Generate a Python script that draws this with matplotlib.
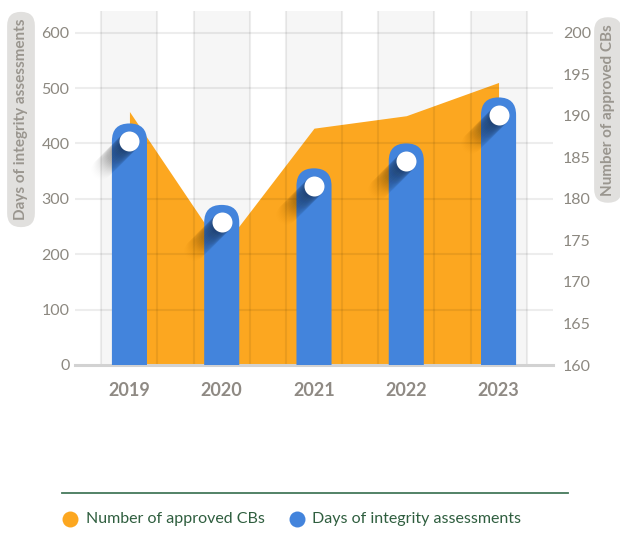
import numpy as np
import matplotlib.pyplot as plt
from matplotlib.patches import FancyBboxPatch
from matplotlib.lines import Line2D
from matplotlib.transforms import ScaledTranslation

# data
years = ['2019', '2020', '2021', '2022', '2023']
days = [436, 289, 355, 400, 483]          # Days of integrity assessments (left axis)
cbs = [190.5, 174, 188.5, 190, 194]       # Number of approved CBs (right axis)
left_ticks = [0, 100, 200, 300, 400, 500, 600]
right_ticks = [160, 165, 170, 175, 180, 185, 190, 195, 200]
legend_labels = ['Number of approved CBs', 'Days of integrity assessments']

orange = '#fca720'
blue = '#4384dc'
grey_txt = '#8c8880'
green = '#2f5e3f'

plt.rcParams['font.family'] = ['Lato', 'DejaVu Sans']

fig = plt.figure(figsize=(6.2, 5.43), dpi=100)
ax = fig.add_axes([75/620, 178/543, 478/620, 354/543])
ax2 = ax.twinx()
ax.set_zorder(ax2.get_zorder() + 1)
ax.patch.set_visible(False)
ax2.patch.set_visible(True)
ax2.patch.set_facecolor('white')

x = np.arange(len(years))
ax.set_xlim(-0.59, 4.59)
ax.set_ylim(0, 639)
ax2.set_ylim(160, 160 + 639/15)

for a in (ax, ax2):
    for s in a.spines.values():
        s.set_visible(False)

# background bands (behind the area)
bw = 0.303
for xi in x:
    ax2.axvspan(xi - bw, xi + bw, color='#f6f6f6', lw=0, zorder=0)

# orange area on right axis
ax2.fill_between(x, cbs, 160, color=orange, lw=0, zorder=1)

# grid lines on top of area, under bars
ax.hlines(left_ticks[1:], -0.59, 4.59, color='k', alpha=0.07, lw=1.5, zorder=1)
ax.vlines(np.concatenate([x - bw, x + bw]), 0, 639, color='k', alpha=0.07, lw=1.5, zorder=1)
ax.axhline(0, color='#d2d2d2', lw=2.2, zorder=2, clip_on=False)

# rounded bars
w = 0.38
p0, p1 = ax.transData.transform([(0, 0), (1, 1)])
sx, sy = p1 - p0
asp = sx / sy
for xi, d in zip(x, days):
    ax.add_patch(FancyBboxPatch((xi - w/2, -120), w, d + 120,
                                boxstyle=f'round,pad=0,rounding_size={w/2}',
                                mutation_aspect=asp, fc=blue, ec='none', zorder=3))

cy = np.array(days) - (w/2) * asp

# long shadow of the knobs, down-left
n = 30
for k in range(0, n):
    off = ScaledTranslation(-k/100, -k/100, fig.dpi_scale_trans)
    ax.plot(x, cy, 'o', ms=14.8, mfc='k', mec='none', alpha=0.05*(1 - k/n),
            transform=ax.transData + off, zorder=5)

ax.plot(x, cy, 'o', ms=14.4, mfc='white', mec='none', zorder=6)

# ticks
ax.set_xticks(x, years)
ax.tick_params(axis='x', length=0, pad=12, labelsize=13, labelcolor='#8f8a84')
for t in ax.get_xticklabels():
    t.set_fontweight('bold')
ax.set_yticks(left_ticks)
ax.tick_params(axis='y', length=0, pad=4, labelsize=11.5, labelcolor=grey_txt)
ax2.set_yticks(right_ticks)
ax2.tick_params(axis='y', length=0, pad=7, labelsize=11.5, labelcolor=grey_txt)

# axis titles in pills
pill = dict(boxstyle='round,pad=0.45,rounding_size=0.9', fc='#e1e0de', ec='none')
fig.text(21/620, 1 - 119.5/543, 'Days of integrity assessments', rotation=90,
         ha='center', va='center', fontsize=11, fontweight='bold', color='#9a968f', bbox=pill)
fig.text(608/620, 1 - 110/543, 'Number of approved CBs', rotation=90,
         ha='center', va='center', fontsize=11, fontweight='bold', color='#9a968f', bbox=pill)

# legend
ly = 1 - 493/543
fig.add_artist(Line2D([62/620, 568/620], [ly, ly], color='#44785a', lw=1.3,
                      transform=fig.transFigure))
my = 1 - 519/543
for lab, col, mx, tx in zip(legend_labels, [orange, blue], [70, 297], [86, 312]):
    fig.add_artist(Line2D([mx/620], [my], marker='o', ms=11.5, mfc=col, mec='none',
                          transform=fig.transFigure))
    fig.text(tx/620, my, lab, ha='left', va='center', fontsize=11.5, color=green)

fig.savefig('out.png', dpi=100)
